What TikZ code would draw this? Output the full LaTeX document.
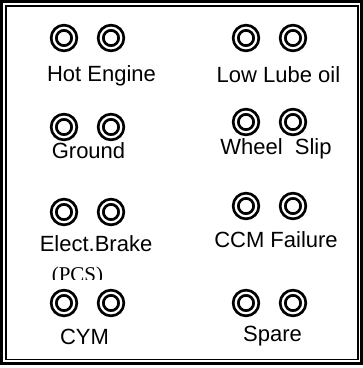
\documentclass[tikz,border=0pt]{standalone}
\usepackage{fontspec}
\setmainfont{Liberation Sans}
\newfontfamily\pcsfont{Liberation Serif}
\usepackage{tikz}

\tikzset{
  lamp/.style={circle, draw, inner sep=0pt, minimum size=20.5pt,
    line width=2.8pt, double, double distance=2.2pt},
  caption/.style={anchor=base, inner sep=0pt,
    font=\fontsize{22}{26}\selectfont}
}

\begin{document}
\begin{tikzpicture}[x=1pt, y=-1pt]
  \useasboundingbox (0,0) rectangle (363,368);
  % frame
  \draw[line width=3pt] (1.5,1.5) rectangle (361.5,363.5);
  \draw[line width=1.5pt] (6.2,6.2) rectangle (358,359.5);

  \node[lamp] (he1) at (64,38) {};
  \node[lamp] (he2) at (111,38) {};
  \node[caption] (he) at (101.5,81) {Hot Engine};

  \node[lamp] (ll1) at (246,38) {};
  \node[lamp] (ll2) at (293,38) {};
  \node[caption] (ll) at (278.5,82) {Low Lube oil};

  \node[lamp] (gr1) at (64,127) {};
  \node[lamp] (gr2) at (111,127) {};
  \node[caption] (gr) at (88.5,158) {Ground};

  \node[lamp] (ws1) at (246,122) {};
  \node[lamp] (ws2) at (293,122) {};
  \node[caption] (ws) at (276,154) {Wheel\ \ Slip};

  \node[lamp] (eb1) at (64,212) {};
  \node[lamp] (eb2) at (111,212) {};
  \node[caption] (eb) at (96,251) {Elect.Brake};
  \begin{scope}
    \clip (40,255) rectangle (120,279);
    \node[caption, font=\pcsfont\fontsize{21}{25}\selectfont] (pcs) at (77.5,281) {(PCS)};
  \end{scope}

  \node[lamp] (cc1) at (246,206) {};
  \node[lamp] (cc2) at (293,206) {};
  \node[caption] (cc) at (276,247) {CCM Failure};

  \node[lamp] (cy1) at (64,303) {};
  \node[lamp] (cy2) at (111,303) {};
  \node[caption] (cy) at (84.5,344) {CYM};

  \node[lamp] (sp1) at (246,303) {};
  \node[lamp] (sp2) at (293,303) {};
  \node[caption] (sp) at (272.5,341) {Spare};
\end{tikzpicture}
\end{document}
